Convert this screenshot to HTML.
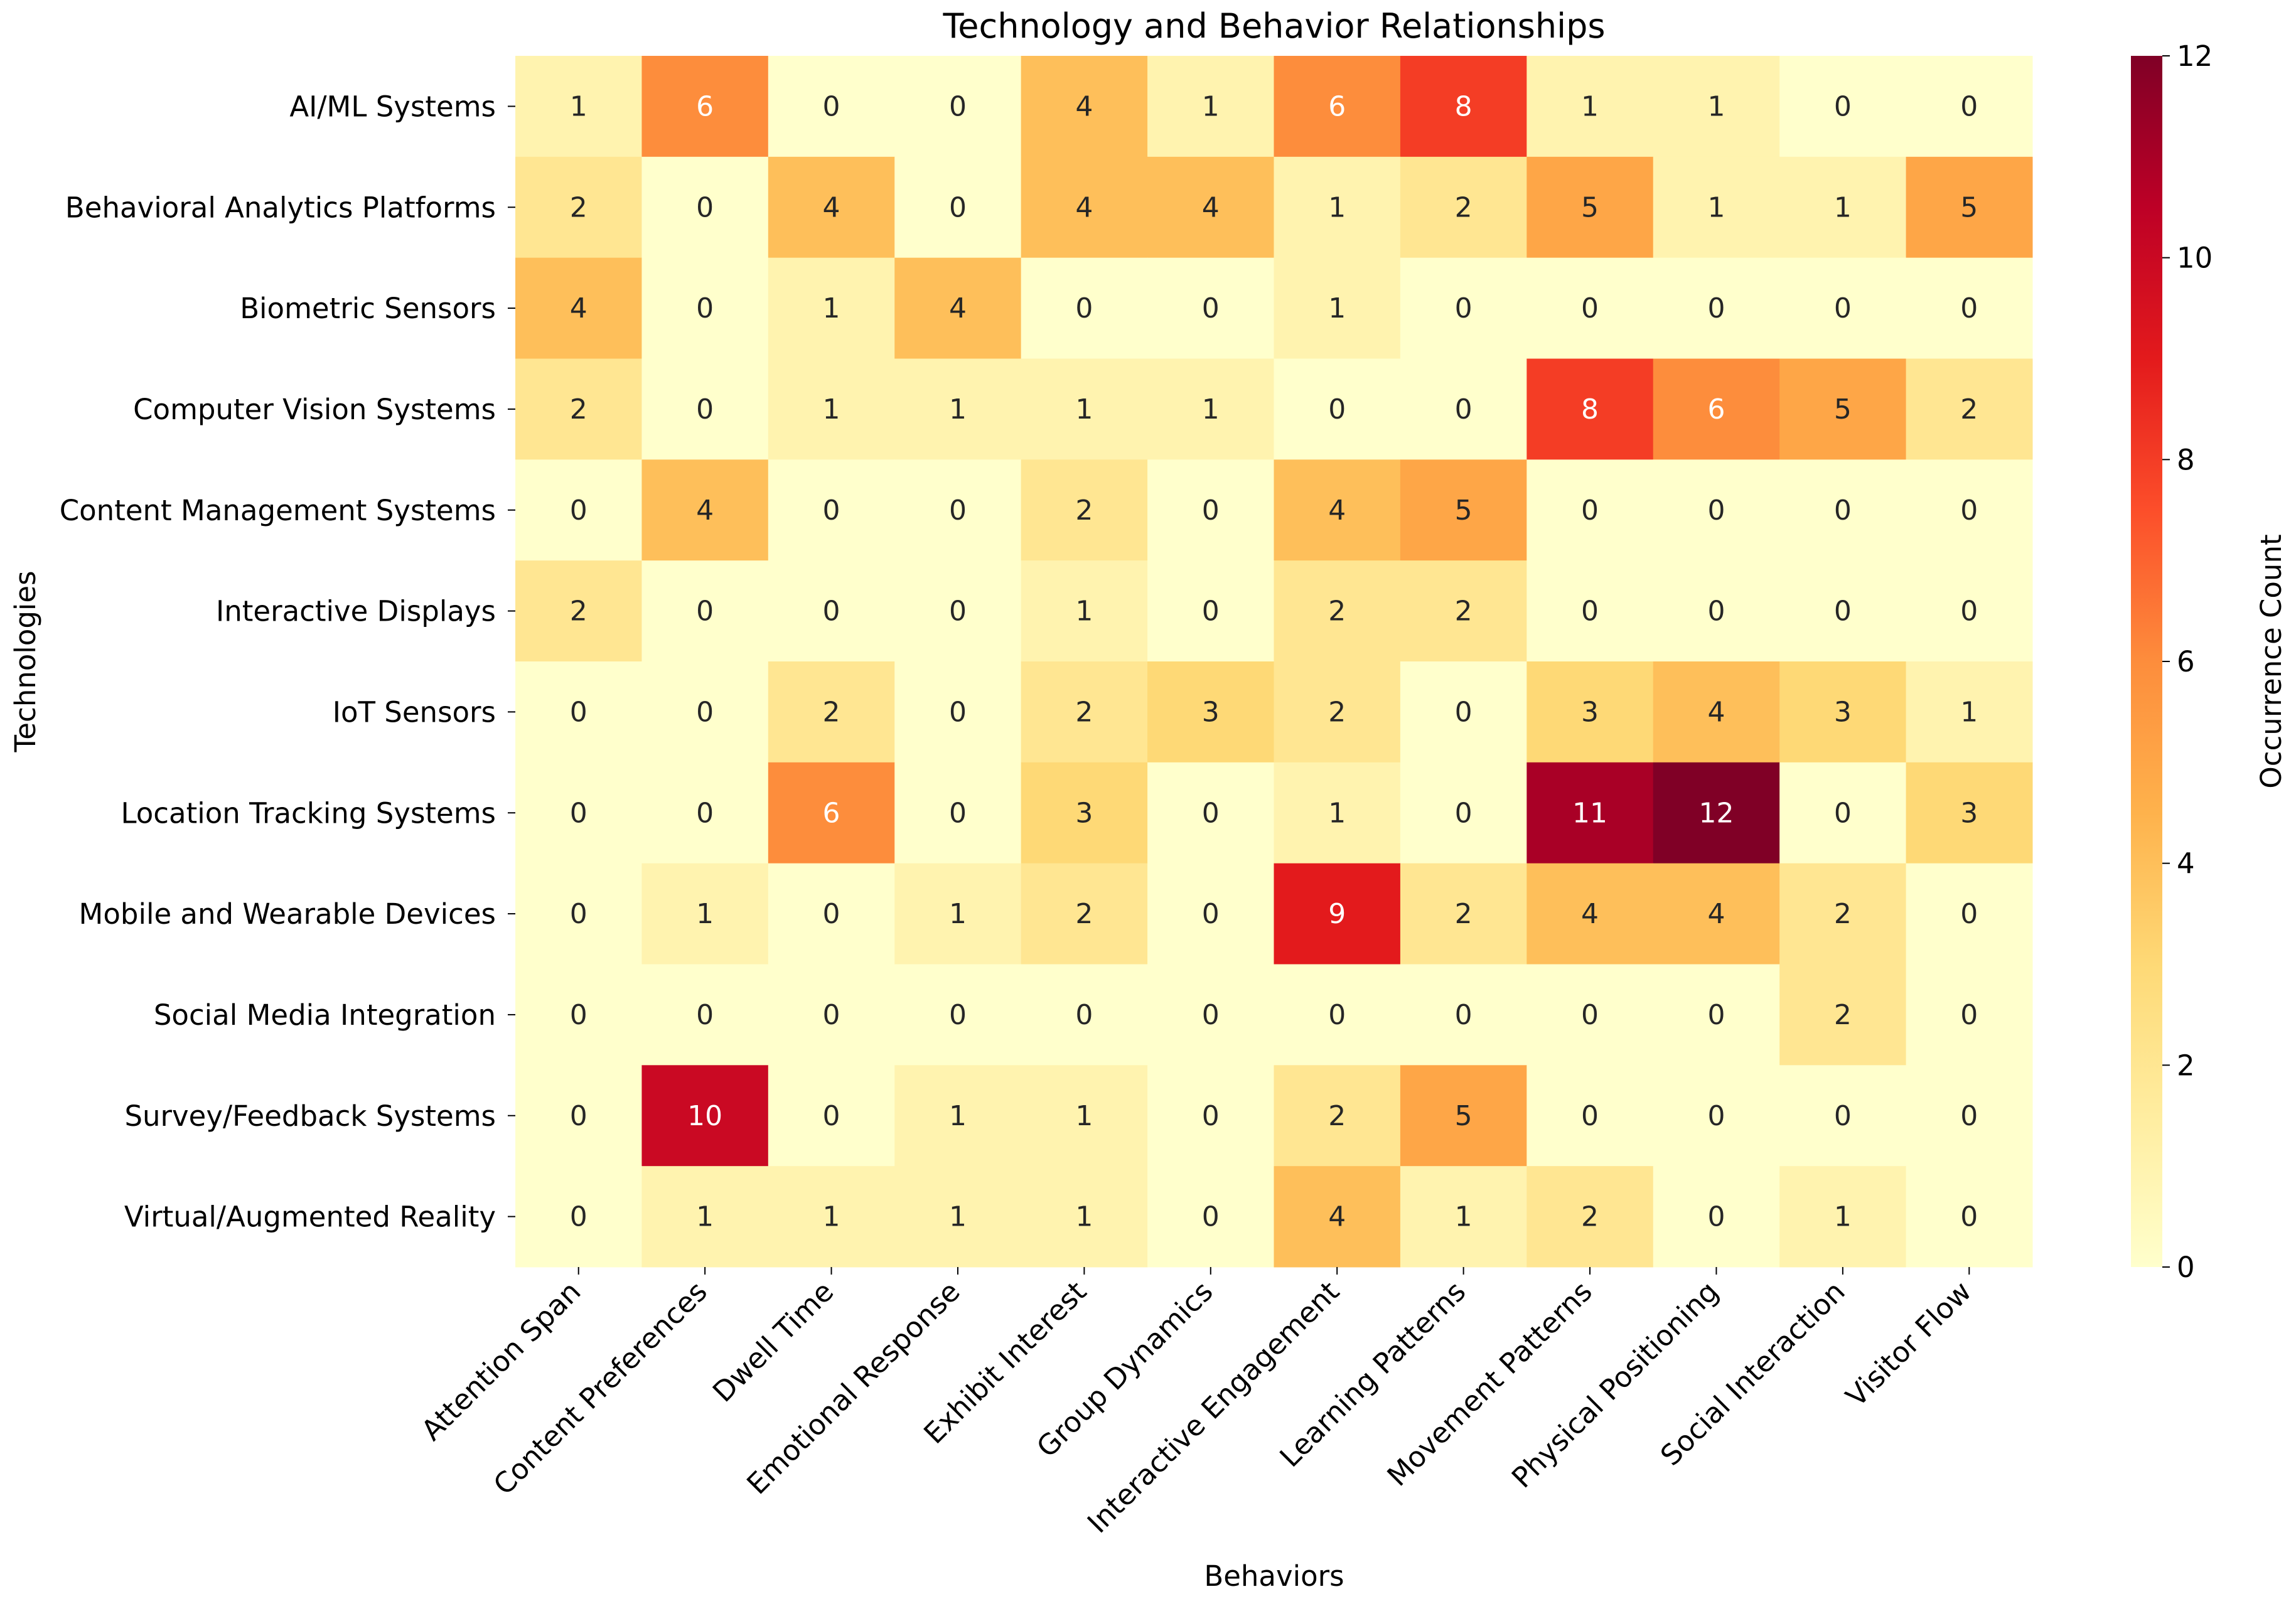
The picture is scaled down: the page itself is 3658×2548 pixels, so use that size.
<!DOCTYPE html>
<html><head><meta charset="utf-8"><style>
html,body{margin:0;padding:0;background:#fff;}
svg{display:block;font-family:"DejaVu Sans","Liberation Sans",sans-serif;}
</style></head><body>
<svg id="chart" width="3658" height="2548" viewBox="0 0 3658 2548" xmlns="http://www.w3.org/2000/svg">
<defs>
<linearGradient id="cbg" x1="0" y1="1" x2="0" y2="0">
<stop offset="0" stop-color="#ffffcc"/><stop offset="0.125" stop-color="#ffeda0"/><stop offset="0.25" stop-color="#fed976"/><stop offset="0.375" stop-color="#feb24c"/><stop offset="0.5" stop-color="#fd8d3c"/><stop offset="0.625" stop-color="#fc4e2a"/><stop offset="0.75" stop-color="#e31a1c"/><stop offset="0.875" stop-color="#bd0026"/><stop offset="1" stop-color="#800026"/>
</linearGradient>
</defs>
<text x="2030" y="60" font-size="54" text-anchor="middle" fill="#000">Technology and Behavior Relationships</text>
<g id="cells"></g>
<g id="xt"></g>
<g id="yt"></g>
<text x="2030" y="2527" font-size="45" text-anchor="middle">Behaviors</text>
<text transform="translate(56,1054) rotate(-90)" font-size="45" text-anchor="middle">Technologies</text>
<rect x="3395" y="89" width="50" height="1930" fill="url(#cbg)"/>
<g id="cbt"></g>
<text transform="translate(3634,1054) rotate(-90)" font-size="45" text-anchor="middle">Occurrence Count</text>
</svg>
<script>
const behaviors=["Attention Span","Content Preferences","Dwell Time","Emotional Response","Exhibit Interest","Group Dynamics","Interactive Engagement","Learning Patterns","Movement Patterns","Physical Positioning","Social Interaction","Visitor Flow"];
const technologies=["AI/ML Systems","Behavioral Analytics Platforms","Biometric Sensors","Computer Vision Systems","Content Management Systems","Interactive Displays","IoT Sensors","Location Tracking Systems","Mobile and Wearable Devices","Social Media Integration","Survey/Feedback Systems","Virtual/Augmented Reality"];
const counts=[
[1,6,0,0,4,1,6,8,1,1,0,0],
[2,0,4,0,4,4,1,2,5,1,1,5],
[4,0,1,4,0,0,1,0,0,0,0,0],
[2,0,1,1,1,1,0,0,8,6,5,2],
[0,4,0,0,2,0,4,5,0,0,0,0],
[2,0,0,0,1,0,2,2,0,0,0,0],
[0,0,2,0,2,3,2,0,3,4,3,1],
[0,0,6,0,3,0,1,0,11,12,0,3],
[0,1,0,1,2,0,9,2,4,4,2,0],
[0,0,0,0,0,0,0,0,0,0,2,0],
[0,10,0,1,1,0,2,5,0,0,0,0],
[0,1,1,1,1,0,4,1,2,0,1,0]];
const cbTicks=[0,2,4,6,8,10,12];
const vmax=12;
const NS="http://www.w3.org/2000/svg";
const L=821,R=3238,T=89,B=2019;
const cw=(R-L)/behaviors.length, ch=(B-T)/technologies.length;
const xs=i=>L+i*cw, ys=j=>T+j*ch;
const stops=["#ffffcc","#ffeda0","#fed976","#feb24c","#fd8d3c","#fc4e2a","#e31a1c","#bd0026","#800026"].map(h=>[1,3,5].map(k=>parseInt(h.substr(k,2),16)));
function color(v){let t=Math.max(0,Math.min(1,v/vmax))*8;let i=Math.min(7,Math.floor(t)),f=t-i;const a=stops[i],b=stops[i+1];return "rgb("+a.map((c,k)=>Math.round(c+(b[k]-c)*f)).join(",")+")";}
function mk(tag,attrs,parent){const e=document.createElementNS(NS,tag);for(const k in attrs)e.setAttribute(k,attrs[k]);parent.appendChild(e);return e;}
const cells=document.getElementById("cells");
counts.forEach((row,j)=>row.forEach((v,i)=>{
 const r=mk("rect",{x:xs(i),y:ys(j),width:cw+0.5,height:ch+0.5,fill:color(v)},cells);
 
 
 const t=mk("text",{x:xs(i)+cw/2,y:ys(j)+ch/2+15,"font-size":44,"text-anchor":"middle",fill:v>=6?"#fff":"#262626"},cells);
 
 
 t.textContent=v;
}));
const xt=document.getElementById("xt");
behaviors.forEach((b,i)=>{
 const cx=xs(i)+cw/2;
 mk("line",{x1:cx,y1:B,x2:cx,y2:B+12,stroke:"#000","stroke-width":2},xt);
 const t=mk("text",{transform:`translate(${cx+6},${B+42}) rotate(-45)`,"font-size":45,"text-anchor":"end"},xt);
 
 
 t.textContent=b;
});
const yt=document.getElementById("yt");
technologies.forEach((n,j)=>{
 const cy=ys(j)+ch/2;
 mk("line",{x1:L-12,y1:cy,x2:L,y2:cy,stroke:"#000","stroke-width":2},yt);
 const t=mk("text",{x:L-31,y:cy+16,"font-size":45,"text-anchor":"end"},yt);
 
 
 t.textContent=n;
});
const cbt=document.getElementById("cbt");
cbTicks.forEach(v=>{
 const y=B-(v/vmax)*(B-T);
 mk("line",{x1:3445,y1:y,x2:3457,y2:y,stroke:"#000","stroke-width":2},cbt);
 const t=mk("text",{x:3468,y:y+16,"font-size":45},cbt);
 
 
 t.textContent=v;
});
</script>
</body></html>
